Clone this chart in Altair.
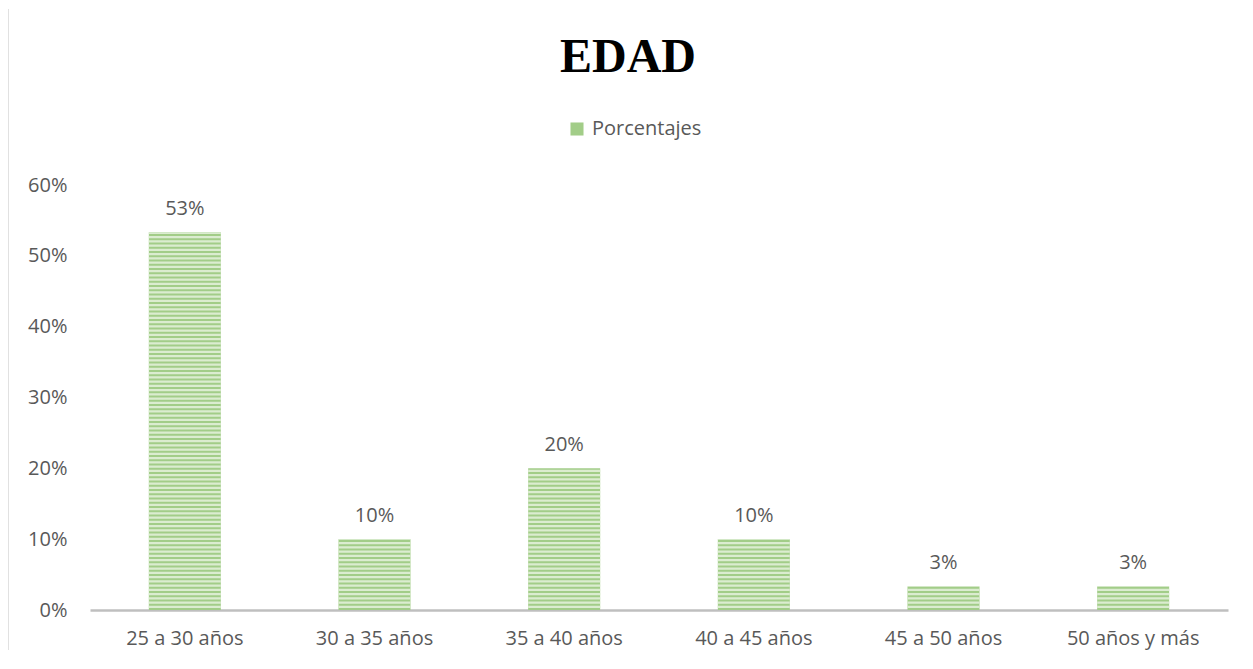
import altair as alt
import pandas as pd

categories = ["25 a 30 años", "30 a 35 años", "35 a 40 años", "40 a 45 años", "45 a 50 años", "50 años y más"]
values = [16/30, 3/30, 6/30, 3/30, 1/30, 1/30]
series_name = "Porcentajes"
y_ticks = [0, 0.1, 0.2, 0.3, 0.4, 0.5, 0.6]

df = pd.DataFrame({"cat": categories, "val": values, "series": series_name})

# light stripes overlaid on each bar (derived from the values)
period = 0.006
rows = []
for c, v in zip(categories, values):
    k = 0
    while k * period < v:
        lo = k * period + period * 0.5
        hi = min(k * period + period, v)
        if lo < v:
            rows.append({"cat": c, "lo": lo, "hi": hi})
        k += 1
stripes = pd.DataFrame(rows)

FONT = "Open Sans"
GREY = "#595959"
FS = 20

x_enc = alt.X("cat:N", sort=categories, title=None,
              scale=alt.Scale(paddingInner=0.62, paddingOuter=0.31),
              axis=alt.Axis(labelAngle=0, labelFont=FONT, labelFontSize=FS, labelColor=GREY,
                            ticks=False, domainColor="#bfbfbf", domainWidth=2.5,
                            labelPadding=18, grid=False))
y_scale = alt.Scale(domain=[0, 0.6], nice=False)

bars = alt.Chart(df).mark_bar(size=72).encode(
    x=x_enc,
    y=alt.Y("val:Q", scale=y_scale, title=None,
            axis=alt.Axis(values=y_ticks, format=".0%", labelFont=FONT, labelFontSize=FS,
                          labelColor=GREY, ticks=False, domain=False, grid=False,
                          labelPadding=23)),
    color=alt.Color("series:N", scale=alt.Scale(range=["#a2cd88"]),
                    legend=alt.Legend(title=None, orient="none", legendX=477, legendY=-66,
                                      symbolType="square", symbolSize=170, symbolStrokeWidth=0,
                                      labelOffset=5,
                                      labelFont=FONT, labelFontSize=FS, labelColor=GREY)),
)

stripe_layer = alt.Chart(stripes).mark_bar(size=72, color="#dbecd0").encode(
    x=alt.X("cat:N", sort=categories),
    y=alt.Y("lo:Q", scale=y_scale),
    y2="hi:Q",
)

labels = alt.Chart(df).mark_text(baseline="alphabetic", dy=-17, font=FONT, fontSize=FS, color=GREY).encode(
    x=alt.X("cat:N", sort=categories),
    y=alt.Y("val:Q", scale=y_scale),
    text=alt.Text("val:Q", format=".0%"),
)

frame = alt.Chart(df).mark_rule(color="#d9d9d9", strokeWidth=1.5).encode(
    x=alt.value(-82.5), y=alt.value(-176), y2=alt.value(475)
)

chart = alt.layer(frame, bars, stripe_layer, labels).properties(
    width=1138, height=425,
    autosize=alt.AutoSizeParams(type="none"),
    padding={"left": 82, "top": 177, "right": 17, "bottom": 40},
    title=alt.TitleParams("EDAD", font="Liberation Serif", fontSize=48, fontWeight="bold",
                          color="#000000", anchor="middle", offset=-74, dx=-31),
).configure_view(stroke=None)

chart.save("out.html", embed_options={"renderer": "svg", "actions": False})
